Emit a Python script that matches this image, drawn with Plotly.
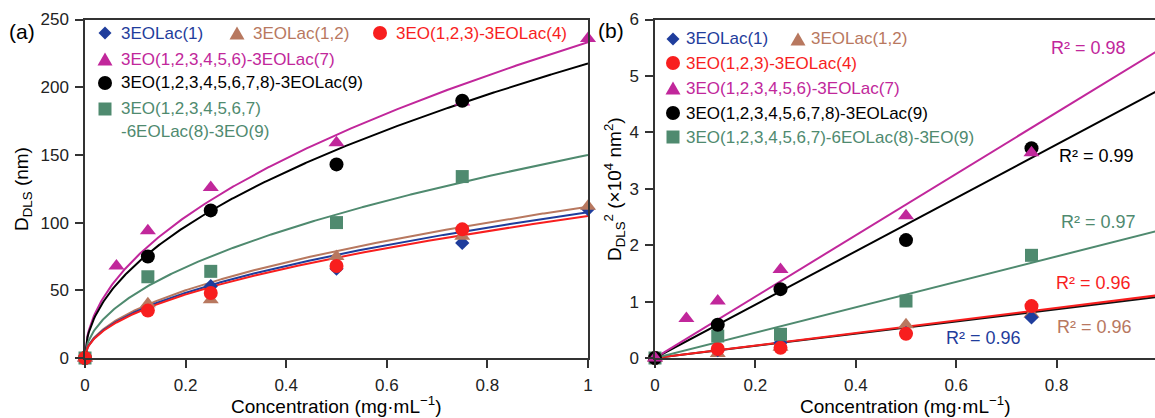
import numpy as np
import plotly.graph_objects as go

W, H = 1155, 418
FONT = "Arial, Liberation Sans, sans-serif"

# ---------------- data ----------------
labels = ["3EOLac(1)", "3EOLac(1,2)", "3EO(1,2,3)-3EOLac(4)",
          "3EO(1,2,3,4,5,6)-3EOLac(7)", "3EO(1,2,3,4,5,6,7,8)-3EOLac(9)",
          "3EO(1,2,3,4,5,6,7)-6EOLac(8)-3EO(9)"]
colors = ["#1f3d9c", "#b8785f", "#f81e1e", "#c1279b", "#000000", "#4f8a6f"]
symbols = ["diamond", "triangle-up", "circle", "triangle-up", "circle", "square"]
msizes = [11, 14, 14, 14, 14, 13]

# panel (a): D_DLS (nm) vs concentration (mg/mL)
x_a = [
    [0, 0.125, 0.25, 0.5, 0.75, 1.0],
    [0, 0.125, 0.25, 0.5, 0.75, 1.0],
    [0, 0.125, 0.25, 0.5, 0.75],
    [0, 0.0625, 0.125, 0.25, 0.5, 0.75, 1.0],
    [0, 0.125, 0.25, 0.5, 0.75],
    [0, 0.125, 0.25, 0.5, 0.75],
]
y_a = [
    [0, 38, 53, 66, 85, 110],
    [0, 40, 43, 75, 90, 112],
    [0, 35, 48, 68, 95],
    [0, 68, 94, 126, 159, 189, 236],
    [0, 75, 109, 143, 190],
    [0, 60, 64, 100, 134],
]
# panel (b): D_DLS^2 (x10^4 nm^2)
x_b = x_a
y_b = [
    [0, 0.14, 0.27, 0.44, 0.72, 1.21],
    [0, 0.08, 0.19, 0.59, 0.78, 1.29],
    [0, 0.16, 0.18, 0.43, 0.92],
    [0, 0.70, 1.01, 1.57, 2.52, 3.64, 5.59],
    [0, 0.59, 1.22, 2.09, 3.72],
    [0, 0.39, 0.42, 1.01, 1.82],
]
# fitted D^2 = k*c slopes (x10^4 nm^2 per mg/mL) (a) curves
fit_slope_a = [1.16, 1.25, 1.10, 5.44, 4.73, 2.25]
# fitted slopes (b) lines (dark line, red, green, black, magenta)
fit_slope_b = [1.08, None, 1.11, 5.44, 4.73, 2.25]
r2_text = ["R² = 0.96", "R² = 0.96", "R² = 0.96", "R² = 0.98", "R² = 0.99", "R² = 0.97"]

xticks_a = [0, 0.2, 0.4, 0.6, 0.8, 1]
yticks_a = [0, 50, 100, 150, 200, 250]
xticks_b = [0, 0.2, 0.4, 0.6, 0.8, 1]
yticks_b = [0, 1, 2, 3, 4, 5, 6]

# ---------------- figure ----------------
fig = go.Figure()
cgrid = np.linspace(0, 1, 401)

# left fit curves (D = sqrt(k c))
for i in [3, 4, 5, 1, 0, 2]:
    fig.add_trace(go.Scatter(x=cgrid, y=np.sqrt(fit_slope_a[i] * 1e4 * cgrid),
                             mode="lines", line=dict(color=colors[i], width=2),
                             xaxis="x", yaxis="y", showlegend=False, hoverinfo="skip"))
# left markers
for i in [3, 4, 5, 0, 1, 2]:
    fig.add_trace(go.Scatter(x=x_a[i], y=y_a[i], mode="markers", cliponaxis=False,
                             marker=dict(symbol=symbols[i], size=msizes[i], color=colors[i],
                                         line=dict(width=0)),
                             xaxis="x", yaxis="y", showlegend=False))

# right fit lines
line_cols_b = ["#111111", None, colors[2], colors[3], colors[4], colors[5]]
for i in [0, 2, 5, 4, 3]:
    fig.add_trace(go.Scatter(x=[0, 1], y=[0, fit_slope_b[i]], mode="lines",
                             line=dict(color=line_cols_b[i], width=2),
                             xaxis="x2", yaxis="y2", showlegend=False, hoverinfo="skip"))
# right markers
for i in [1, 0, 2, 5, 4, 3]:
    fig.add_trace(go.Scatter(x=x_b[i], y=y_b[i], mode="markers", cliponaxis=False,
                             marker=dict(symbol=symbols[i], size=msizes[i], color=colors[i],
                                         line=dict(width=0)),
                             xaxis="x2", yaxis="y2", showlegend=False))

axcol = "#333333"
common = dict(showgrid=False, zeroline=False, showline=True, linecolor=axcol, linewidth=1.5,
              ticks="outside", ticklen=8, tickwidth=1.5, tickcolor=axcol, ticklabelstandoff=3,
              tickfont=dict(family=FONT, size=17, color="#222222"), automargin=False)

fig.update_layout(
    width=W, height=H, margin=dict(l=0, r=0, t=0, b=0),
    paper_bgcolor="white", plot_bgcolor="white",
    showlegend=False,
    xaxis=dict(domain=[85 / W, 588 / W], range=[0, 1], tickvals=xticks_a,
               mirror=True, anchor="y", **common),
    yaxis=dict(domain=[(H - 358) / H, (H - 19.5) / H], range=[0, 250], tickvals=yticks_a,
               mirror=True, anchor="x", **common),
    xaxis2=dict(domain=[655 / W, 1.0], range=[0, (W - 655) / 502], tickvals=xticks_b,
                mirror=True, anchor="y2", **common),
    yaxis2=dict(domain=[(H - 358) / H, (H - 19.5) / H], range=[0, 6], tickvals=yticks_b,
                mirror=False, anchor="x2", **common),
)

def px(x):
    return x / W

def py(y):
    return 1 - y / H

ann = []
def text(x, y, s, color="#000000", size=17, xanchor="left", angle=0, yanchor="middle"):
    ann.append(dict(x=px(x), y=py(y), xref="paper", yref="paper", text=s, showarrow=False,
                    xanchor=xanchor, yanchor=yanchor, textangle=angle, borderpad=0,
                    font=dict(family=FONT, size=size, color=color)))

shapes = []
def glyph(sym, x, y, color, s=7):
    base = dict(xref="paper", yref="paper", xsizemode="pixel", ysizemode="pixel",
                xanchor=px(x), yanchor=py(y), fillcolor=color, line=dict(width=0))
    if sym == "circle":
        shapes.append(dict(type="circle", x0=-s, x1=s, y0=-s, y1=s, **base))
    elif sym == "square":
        shapes.append(dict(type="rect", x0=-6.5, x1=6.5, y0=-6.5, y1=6.5, **base))
    elif sym == "diamond":
        shapes.append(dict(type="path", path="M 0,6.5 L 6.5,0 L 0,-6.5 L -6.5,0 Z", **base))
    else:
        shapes.append(dict(type="path", path="M -7.5,-6.5 L 7.5,-6.5 L 0,6.5 Z", **base))

# panel labels
text(22, 32, "(a)", size=21, xanchor="center")
text(611, 30, "(b)", size=21, xanchor="center")

# axis titles
text(336.5, H, "Concentration (mg·mL<sup>−1</sup>)", size=19, xanchor="center", yanchor="bottom")
text(905, H, "Concentration (mg·mL<sup>−1</sup>)", size=19, xanchor="center", yanchor="bottom")
text(23, 189, "D<sub>DLS</sub> (nm)", size=19, xanchor="center", angle=-90)
text(614, 189, "D<sub>DLS</sub><sup>2</sup> (×10<sup>4</sup> nm<sup>2</sup>)", size=19,
     xanchor="center", angle=-90)

# legend (a)
leg_a = [(0, 105, 33), (1, 237, 33), (2, 380, 33), (3, 105, 59), (4, 105, 83), (5, 105, 109)]
for i, gx, gy in leg_a:
    glyph(symbols[i], gx, gy, colors[i])
    if i == 5:
        text(gx + 15, gy, "3EO(1,2,3,4,5,6,7)", colors[i])
        text(gx + 15, gy + 22, "-6EOLac(8)-3EO(9)", colors[i])
    else:
        text(gx + 15, gy, labels[i], colors[i])

# legend (b)
leg_b = [(0, 673, 39), (1, 798, 39), (2, 673, 63), (3, 673, 88), (4, 673, 113), (5, 673, 137)]
for i, gx, gy in leg_b:
    glyph(symbols[i], gx, gy, colors[i])
    text(gx + 12, gy, labels[i], colors[i])

# R^2 labels (b)
r2_pos = [(984, 338), (1094, 327), (1093, 283), (1088, 48), (1096, 156), (1098, 222)]
for i, (rx, ry) in enumerate(r2_pos):
    text(rx, ry, r2_text[i], colors[i], size=18, xanchor="center")

fig.update_layout(annotations=ann, shapes=shapes)
fig.write_html("out.html")
